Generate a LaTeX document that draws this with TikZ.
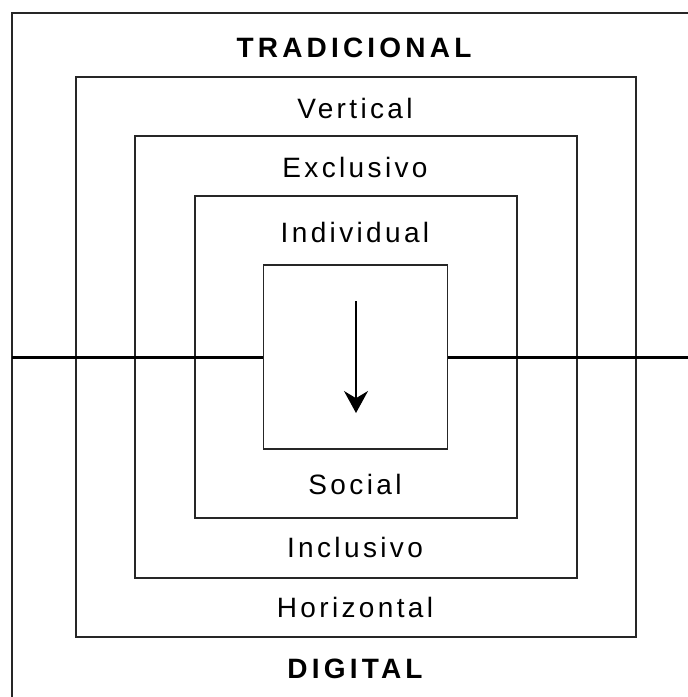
\documentclass[tikz,border=0pt]{standalone}
\usepackage{fontspec}
\setmainfont{Liberation Sans}[LetterSpace=12]
\usetikzlibrary{positioning, arrows.meta}

\tikzset{
  level/.style={draw=black!85, line width=1.3pt, minimum width=#1pt, minimum height=#1pt, inner sep=0pt},
  word/.style={anchor=base, font=\fontsize{28}{28}\selectfont, inner sep=0pt},
  pole/.style={word, font=\fontsize{28}{28}\selectfont\bfseries\addfontfeature{LetterSpace=15}}
}

\begin{document}
\begin{tikzpicture}[x=1pt, y=-1pt]
  \useasboundingbox (0,0) rectangle (688,697);
  \draw [black!85, line width=1.3pt] (12,13) rectangle (692,701);

  \node [level=560] (L1) at (356,357) {};
  \node [level=442] (L2) at (356,357) {};
  \node [level=322] (L3) at (356,357) {};
  \node [level=184, fill=white] (L4) at (355.5,357) {};

  \coordinate (W) at (12,357);
  \coordinate (E) at (690,357);
  \draw [line width=3pt] (W) -- (L4.west);
  \draw [line width=3pt] (L4.east) -- (E);

  \coordinate (top) at (356,301);
  \coordinate (bot) at (356,413);
  \draw [-{Stealth[length=22pt, width=24pt]}, line width=1.8pt] (top) -- (bot);

  \node [pole] (trad) at (354,57) {TRADICIONAL};
  \node [word] (vert) at (355,118) {Vertical};
  \node [word] (excl) at (355,177) {Exclusivo};
  \node [word] (indi) at (355,242) {Individual};
  \node [word] (soci) at (355,494) {Social};
  \node [word] (incl) at (355,557) {Inclusivo};
  \node [word] (hori) at (355,617) {Horizontal};
  \node [pole] (digi) at (355,678) {DIGITAL};
\end{tikzpicture}
\end{document}
